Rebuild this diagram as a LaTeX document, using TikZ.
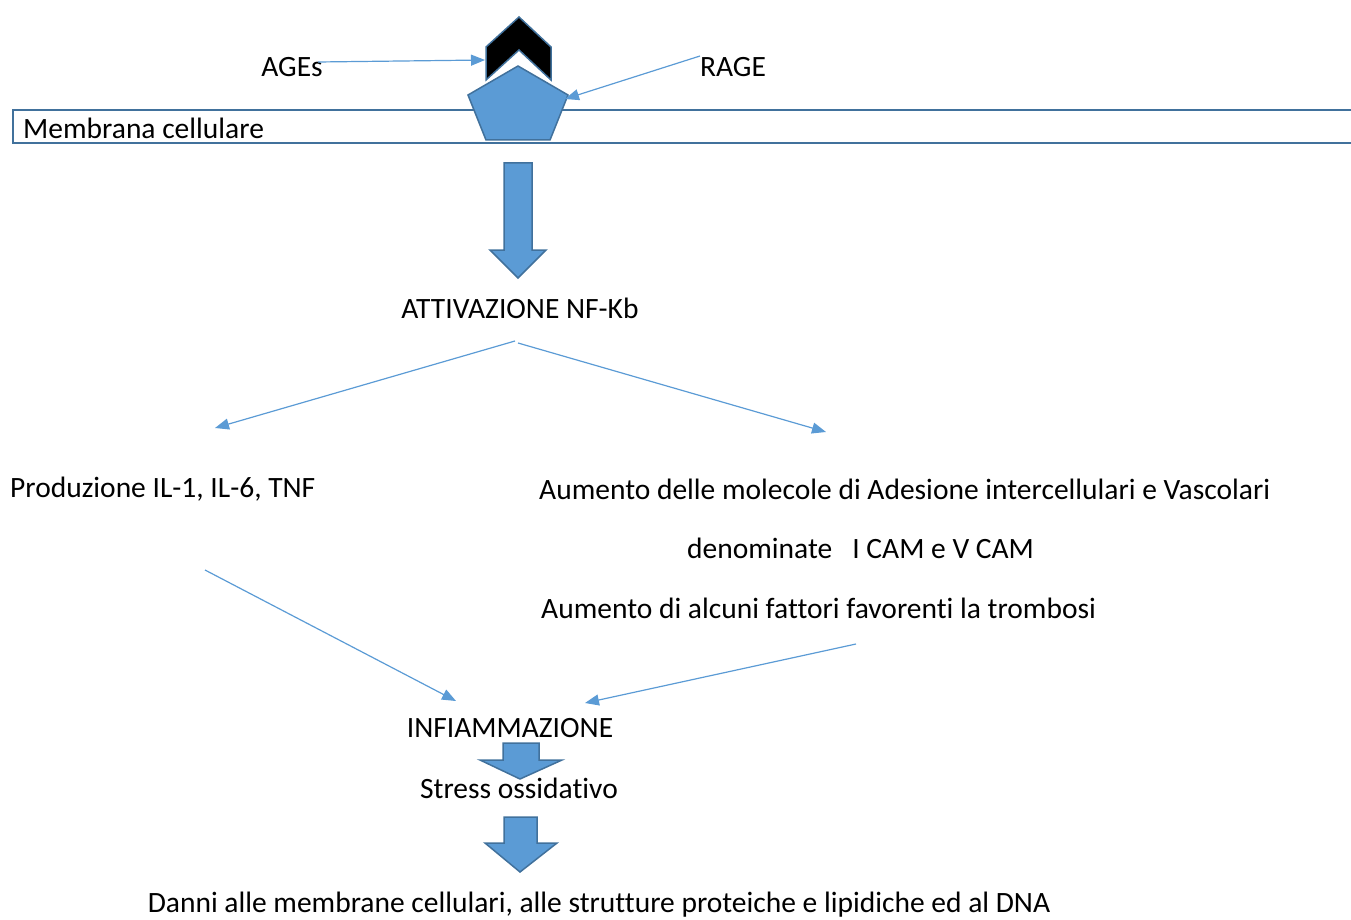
\documentclass[tikz,border=0pt]{standalone}
\usepackage{fontspec}
\setmainfont{Carlito}[Ligatures=NoCommon]
\usetikzlibrary{arrows.meta}
\definecolor{fillblue}{HTML}{5B9BD5}
\definecolor{edgeblue}{HTML}{41719C}
\begin{document}
\begin{tikzpicture}[x=1pt,y=-1pt,
  lbl/.style={font=\fontsize{29.5}{33}\selectfont, inner sep=0pt},
  thin/.style={draw=fillblue, line width=1.2pt, -{Triangle[length=14pt,width=11pt]}},
  block/.style={fill=fillblue, draw=edgeblue, line width=1.5pt, line join=miter},
  membrane/.style={draw=edgeblue, line width=2pt}]
\useasboundingbox (0,0) rectangle (1351,920);
% membrane
\draw[membrane] (1355,110) -- (13,110) -- (13,143) -- (1355,143);
\node[lbl, anchor=west] (mem) at (23,128) {Membrana cellulare};
% chevron (AGEs)
\draw[fill=black, draw=edgeblue, line width=1.5pt] (519,17) -- (551,47) -- (551,80) -- (519,50) -- (486,80) -- (486,47) -- cycle;
% pentagon (RAGE)
\draw[block] (518,66) -- (568,95) -- (550,140) -- (486,140) -- (468,95) -- cycle;
% labels
\node[lbl] (ages) at (292,67) {AGEs};
\node[lbl] (rage) at (733,67) {RAGE};
\coordinate (agesS) at (318,62);
\coordinate (agesE) at (485,60);
\coordinate (rageS) at (700,56);
\coordinate (rageE) at (565,99);
\draw[thin] (agesS) -- (agesE);
\draw[thin] (rageS) -- (rageE);
% big arrow 1
\draw[block] (504,163) -- (532,163) -- (532,250) -- (546,250) -- (518,278) -- (490,250) -- (504,250) -- cycle;
\node[lbl] (nfkb) at (520,308) {ATTIVAZIONE NF-Kb};
\coordinate (nfS1) at (515,341);
\coordinate (nfS2) at (518,343);
\coordinate (prodE) at (215,428);
\coordinate (aumE) at (826,432);
\draw[thin] (nfS1) -- (prodE);
\draw[thin] (nfS2) -- (aumE);
\node[lbl, anchor=west] (prod) at (10,489) {Produzione IL-1, IL-6, TNF};
\node[lbl, anchor=west] (aum1) at (539,489) {Aumento delle molecole di Adesione intercellulari e Vascolari};
\node[lbl, anchor=west] (aum2) at (687,548) {denominate \ \ I CAM e V CAM};
\node[lbl, anchor=west] (aum3) at (541,608) {Aumento di alcuni fattori favorenti la trombosi};
\coordinate (prodS) at (205,570);
\coordinate (infE1) at (456,701);
\coordinate (aumS) at (856,644);
\coordinate (infE2) at (585,703);
\draw[thin] (prodS) -- (infE1);
\draw[thin] (aumS) -- (infE2);
\node[lbl] (inf) at (510,728) {INFIAMMAZIONE};
% small arrow 2
\draw[block] (503,743) -- (539,743) -- (539,760) -- (562,760) -- (520,779) -- (480,760) -- (503,760) -- cycle;
\node[lbl] (stress) at (519,788) {Stress ossidativo};
% big arrow 3
\draw[block] (504,817) -- (537,817) -- (537,843) -- (557,843) -- (520,872) -- (485,843) -- (504,843) -- cycle;
\node[lbl] (danni) at (599,905) {Danni alle membrane cellulari, alle strutture proteiche e lipidiche ed al DNA};
\end{tikzpicture}
\end{document}
